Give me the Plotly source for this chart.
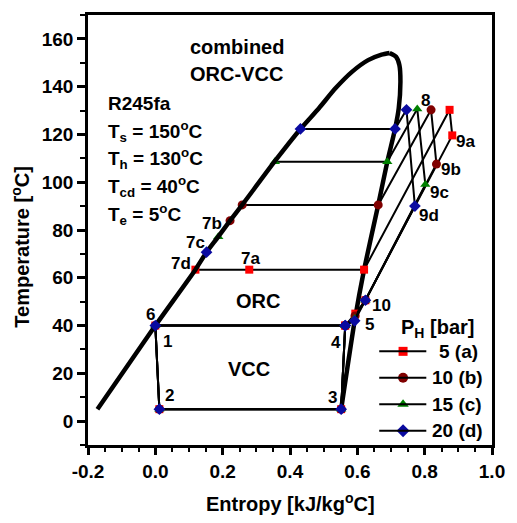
import plotly.graph_objects as go

# ---------------- data ----------------
# saturation dome of R245fa, liquid side (bottom -> top) and vapour side (top -> bottom)
dome_liq_s = [-0.172, 0.0, 0.119, 0.152, 0.187, 0.222, 0.258, 0.355, 0.431, 0.486, 0.535, 0.584, 0.632, 0.672, 0.696]
dome_liq_T = [5.0, 40.0, 63.4, 70.7, 77.2, 83.9, 90.5, 108.8, 122.3, 131.0, 139.3, 146.2, 151.1, 153.4, 154.1]
dome_vap_s = [0.696, 0.715, 0.725, 0.728, 0.723, 0.712, 0.689, 0.662, 0.620, 0.592, 0.552]
dome_vap_T = [154.1, 152.5, 149.0, 142.1, 131.0, 122.3, 108.6, 90.5, 63.4, 42.0, 5.0]

series_names = ["5 (a)", "10 (b)", "15 (c)", "20 (d)"]
# cycle paths: 7 -> sat.liq -> sat.vap -> 8 -> 9 -> 10 -> 5 -> 4 -> 1 -> 2 -> 3 -> 4
s_a = [0.119, 0.279, 0.620, 0.874, 0.882, 0.624, 0.594, 0.564, 0.0, 0.012, 0.552, 0.564]
T_a = [63.4, 63.4, 63.4, 130.3, 119.6, 50.6, 45.0, 40.0, 40.0, 5.0, 5.0, 40.0]
s_b = [0.222, None, 0.258, 0.662, 0.819, 0.835, 0.624, 0.593, 0.564, 0.0, 0.012, 0.552, 0.564]
T_b = [83.9, None, 90.5, 90.5, 130.3, 107.6, 50.6, 44.0, 40.0, 40.0, 5.0, 5.0, 40.0]
s_c = [0.187, None, 0.355, 0.689, 0.778, 0.802, 0.624, 0.592, 0.564, 0.0, 0.012, 0.552, 0.564]
T_c = [77.2, None, 108.6, 108.6, 130.7, 99.0, 50.6, 43.0, 40.0, 40.0, 5.0, 5.0, 40.0]
s_d = [0.152, None, 0.431, 0.712, 0.746, 0.771, 0.624, 0.592, 0.564, 0.0, 0.012, 0.552, 0.564]
T_d = [70.7, None, 122.3, 122.3, 130.3, 90.0, 50.6, 42.0, 40.0, 40.0, 5.0, 5.0, 40.0]

x_tickvals = [-0.2, 0.0, 0.2, 0.4, 0.6, 0.8, 1.0]
x_ticktext = ["-0.2", "0.0", "0.2", "0.4", "0.6", "0.8", "1.0"]
y_tickvals = [0, 20, 40, 60, 80, 100, 120, 140, 160]
y_ticktext = ["0", "20", "40", "60", "80", "100", "120", "140", "160"]

# ---------------- styling ----------------
W, H = 517, 523
ML, MR, MT, MB = 88, 17, 12, 78
PW, PH = W - ML - MR, H - MT - MB
FONT = "Arial, Liberation Sans, sans-serif"
colors = ["#FF0000", "#800000", "#008000", "#0A0AA0"]
symbols = ["square", "circle", "triangle-up", "diamond"]
msizes = [8, 9, 9, 9]


def pp(xp, yp):
    """pixel position -> paper fraction"""
    return (xp - ML) / PW, (H - MB - yp) / PH


fig = go.Figure()

dome_line = dict(color="black", width=4.5, shape="spline", smoothing=0.6)
fig.add_trace(go.Scatter(x=dome_vap_s, y=dome_vap_T, mode="lines", line=dome_line,
                         showlegend=False, hoverinfo="skip"))

paths = [(s_a, T_a), (s_b, T_b), (s_c, T_c), (s_d, T_d)]
for i in range(3):
    s, T = paths[i]
    fig.add_trace(go.Scatter(x=s, y=T, mode="lines+markers", name=series_names[i],
                             line=dict(color="black", width=2), connectgaps=False,
                             marker=dict(symbol=symbols[i], color=colors[i], size=msizes[i]),
                             showlegend=False))

fig.add_trace(go.Scatter(x=dome_liq_s, y=dome_liq_T, mode="lines", line=dome_line,
                         showlegend=False, hoverinfo="skip"))

s, T = paths[3]
fig.add_trace(go.Scatter(x=s, y=T, mode="lines+markers", name=series_names[3],
                         line=dict(color="black", width=2), connectgaps=False,
                         marker=dict(symbol=symbols[3], color=colors[3], size=msizes[3]),
                         showlegend=False))

# ---------------- manual legend ----------------
leg_rows_px = [350.7, 377.3, 404.0, 430.7]
leg_line_x0, leg_line_x1, leg_marker_x = 385, 433, 409.3
leg_text_x = [444, 437, 437, 437]
shapes = []
annotations = []
for i, yp in enumerate(leg_rows_px):
    x0, yy = pp(leg_line_x0, yp)
    x1, _ = pp(leg_line_x1, yp)
    shapes.append(dict(type="line", xref="paper", yref="paper", x0=x0, x1=x1, y0=yy, y1=yy,
                       line=dict(color="black", width=2)))
    xm, _ = pp(leg_marker_x, yp)
    fig.add_trace(go.Scatter(x=[xm], y=[yy], xaxis="x2", yaxis="y2", mode="markers",
                             marker=dict(symbol=symbols[i], color=colors[i], size=msizes[i] + 1),
                             showlegend=False, hoverinfo="skip"))
    xt, _ = pp(leg_text_x[i], yp)
    annotations.append(dict(xref="paper", yref="paper", x=xt, y=yy, xanchor="left", yanchor="middle",
                            text=series_names[i], showarrow=False,
                            font=dict(family=FONT, size=19, color="black", weight="bold")))


def add_text(text, xp, yp, size=19, xanchor="center", angle=0):
    x, y = pp(xp, yp)
    annotations.append(dict(xref="paper", yref="paper", x=x, y=y, xanchor=xanchor, yanchor="middle",
                            text=text, showarrow=False, textangle=angle,
                            font=dict(family=FONT, size=size, color="black", weight="bold")))


add_text("P<sub>H</sub> [bar]", 444, 328, size=20)
add_text("combined", 240, 44, size=20)
add_text("ORC-VCC", 239, 71, size=20)
add_text("R245fa", 106, 101, xanchor="left")
add_text("T<sub>s</sub> = 150<sup>o</sup>C", 106, 129, xanchor="left")
add_text("T<sub>h</sub> = 130<sup>o</sup>C", 106, 157, xanchor="left")
add_text("T<sub>cd</sub> = 40<sup>o</sup>C", 106, 185, xanchor="left")
add_text("T<sub>e</sub> = 5<sup>o</sup>C", 106, 213, xanchor="left")

point_labels = [("8", 431.7, 98.3), ("9a", 472.9, 139), ("9b", 458.2, 167.5), ("9c", 446.7, 190.8),
                ("9d", 435.5, 214), ("7a", 254.2, 257.5), ("7b", 214, 221.7), ("7c", 197.8, 240.8),
                ("7d", 182.7, 262.2), ("6", 151.7, 313.3), ("1", 169, 340.3), ("2", 171, 395.2),
                ("3", 337.2, 396.8), ("4", 341, 342.2), ("5", 375, 323.3), ("10", 387.2, 305)]
for t, xp, yp in point_labels:
    add_text(t, xp, yp, size=17)
add_text("ORC", 261.7, 300, size=20)
add_text("VCC", 252, 368.5, size=20)

add_text("Entropy [kJ/kg<sup>o</sup>C]", 294, 503, size=20)
add_text("Temperature [<sup>o</sup>C]", 19, 245, size=20, angle=-90)

tickfont = dict(family=FONT, size=19, color="black", weight="bold")
fig.update_layout(
    width=W, height=H,
    margin=dict(l=ML, r=MR, t=MT, b=MB),
    paper_bgcolor="white", plot_bgcolor="white",
    showlegend=False,
    shapes=shapes, annotations=annotations,
    xaxis=dict(range=[-0.2, 1.0], tickmode="array", tickvals=x_tickvals, ticktext=x_ticktext,
               ticks="outside", ticklen=7, tickwidth=2.5, tickcolor="black",
               showline=True, linecolor="black", linewidth=2.5, mirror=True,
               showgrid=False, zeroline=False, tickfont=tickfont,
               minor=dict(ticks="outside", ticklen=4, tickwidth=2, tickcolor="black",
                          tickmode="linear", tick0=0, dtick=0.05, showgrid=False)),
    yaxis=dict(range=[-10, 170], tickmode="array", tickvals=y_tickvals, ticktext=y_ticktext,
               ticks="outside", ticklen=8, tickwidth=2.5, tickcolor="black",
               showline=True, linecolor="black", linewidth=2.5, mirror=True,
               showgrid=False, zeroline=False, tickfont=tickfont,
               minor=dict(ticks="outside", ticklen=5, tickwidth=2, tickcolor="black",
                          tickmode="linear", tick0=0, dtick=10, showgrid=False)),
    xaxis2=dict(overlaying="x", range=[0, 1], visible=False),
    yaxis2=dict(overlaying="y", range=[0, 1], visible=False),
)

fig.write_html("out.html")
